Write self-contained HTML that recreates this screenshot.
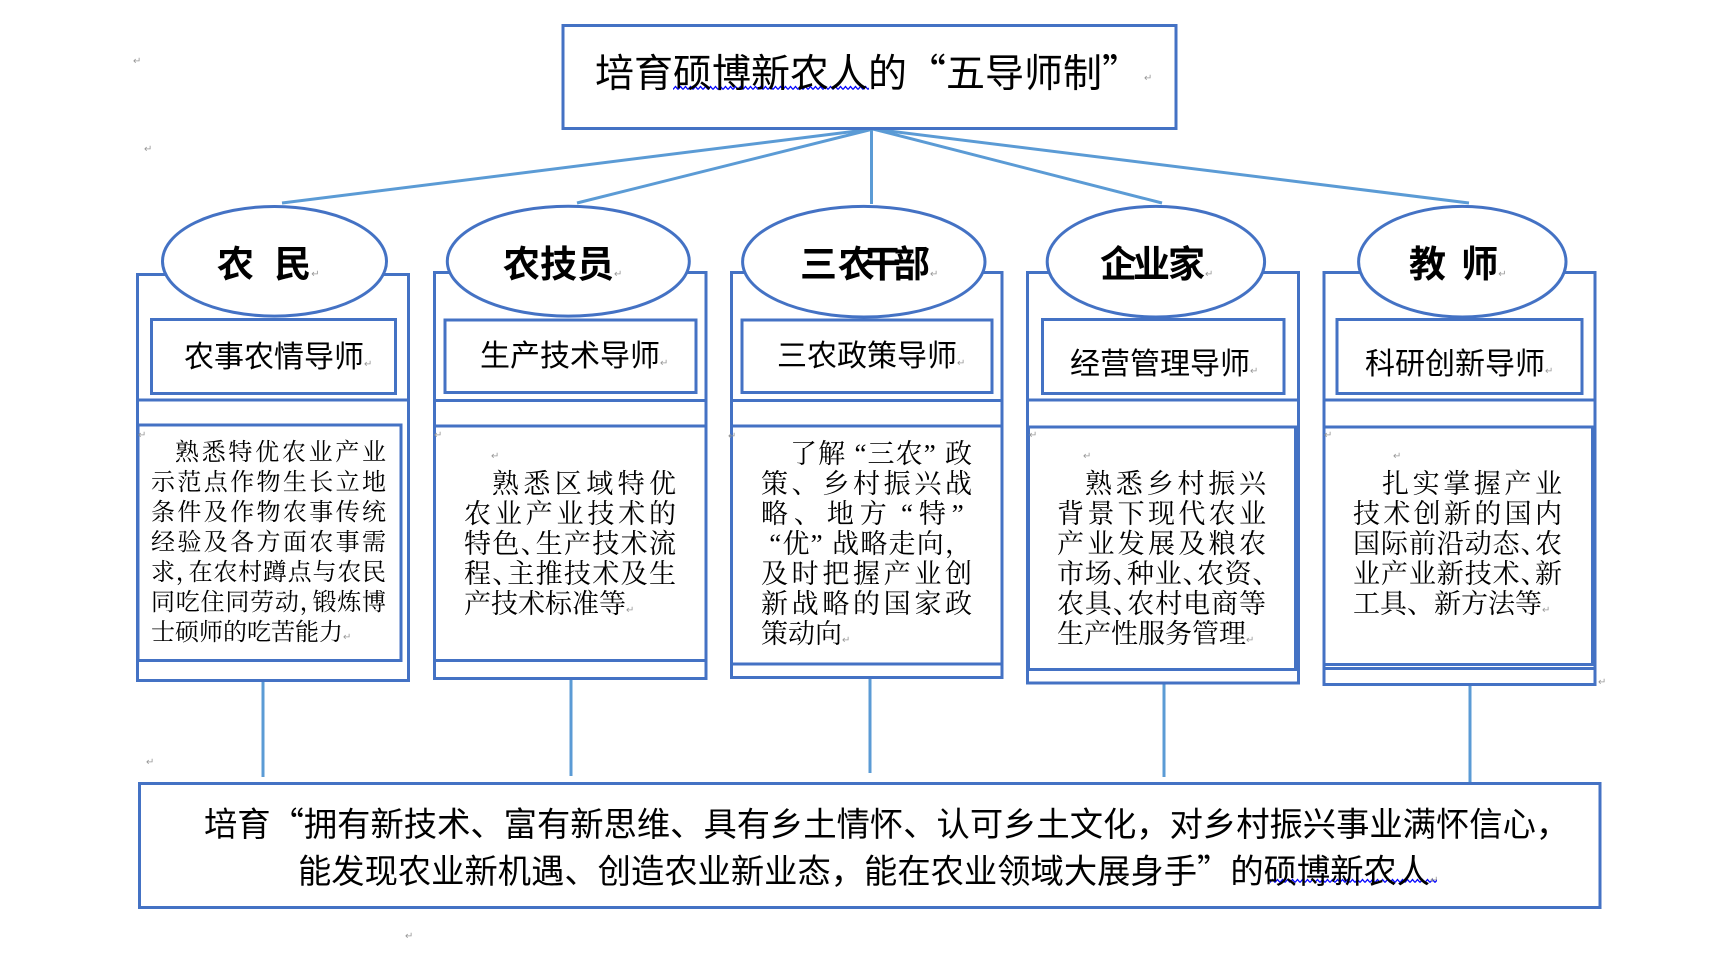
<!DOCTYPE html>
<html><head><meta charset="utf-8">
<style>
html,body{margin:0;padding:0;background:#fff;}
body{width:1714px;height:973px;position:relative;overflow:hidden;}
svg{position:absolute;left:0;top:0;}
.t{position:absolute;white-space:nowrap;line-height:1;color:#000;font-family:"Liberation Sans","Noto Sans CJK SC",sans-serif;}
.b{font-weight:bold;}
.d{position:absolute;font-family:"Liberation Serif","Noto Serif CJK SC",serif;color:#000;}
.d div{height:30px;line-height:30px;text-align:justify;text-align-last:justify;}
.d div.l{text-align:left;text-align-last:left;white-space:nowrap;}
.ql,.qr{display:inline-block;width:1em;font-family:"Noto Sans CJK SC",sans-serif;}
.ql{text-align:right;}
.qr{text-align:left;}
.sl{margin-left:0.306em;}
.sr{margin-right:0.306em;}
.h{letter-spacing:-0.5em;}
.mk{font-family:"DejaVu Sans",sans-serif;font-size:10px;color:#999;font-weight:normal;letter-spacing:0;}
.m{position:absolute;font-family:"DejaVu Sans",sans-serif;font-size:10px;color:#999;line-height:1;}
</style></head><body>
<svg width="1714" height="973" viewBox="0 0 1714 973" xmlns="http://www.w3.org/2000/svg">
<defs>
<pattern id="wv" x="0" y="0" width="5" height="6" patternUnits="userSpaceOnUse"><path d="M0 4.5 L2.5 1.5 L5 4.5" fill="none" stroke="#0000ff" stroke-width="1.3"/></pattern>
</defs>
<g stroke="#5B9BD5" stroke-width="3" fill="none">
<line x1="873" y1="129" x2="282" y2="203"/>
<line x1="873" y1="129" x2="577" y2="203"/>
<line x1="871.5" y1="129" x2="871.5" y2="204"/>
<line x1="873" y1="129" x2="1162" y2="203"/>
<line x1="873" y1="129" x2="1469" y2="203"/>
<line x1="263" y1="682" x2="263" y2="777"/>
<line x1="571" y1="680" x2="571" y2="776"/>
<line x1="870" y1="679" x2="870" y2="773"/>
<line x1="1164" y1="684" x2="1164" y2="777"/>
<line x1="1470" y1="686" x2="1470" y2="783"/>
</g>
<g stroke="#4472C4" stroke-width="3" fill="none">
<rect x="563" y="25.5" width="613" height="103" fill="#fff"/>
<rect x="137.5" y="274.5" width="271" height="406"/>
<rect x="434.5" y="272.5" width="271.5" height="406"/>
<rect x="731.5" y="272.5" width="270.5" height="405"/>
<rect x="1027.5" y="272.5" width="271" height="410.5"/>
<rect x="1324" y="272.5" width="271" height="412"/>
<ellipse cx="274.5" cy="261.3" rx="112" ry="54.8" fill="#fff"/>
<ellipse cx="568.3" cy="261.2" rx="121" ry="54.9" fill="#fff"/>
<ellipse cx="863.8" cy="261.7" rx="121.2" ry="55.3" fill="#fff"/>
<ellipse cx="1155.9" cy="261.7" rx="108.7" ry="55.3" fill="#fff"/>
<ellipse cx="1462.3" cy="261.7" rx="103.7" ry="55.3" fill="#fff"/>
<rect x="151.5" y="319.5" width="244" height="74"/>
<rect x="445" y="320" width="251" height="72.5"/>
<rect x="742" y="320" width="250" height="72.5"/>
<rect x="1042.5" y="319.5" width="241.5" height="74"/>
<rect x="1337" y="319.5" width="245" height="74"/>
<line x1="137.5" y1="400" x2="408.5" y2="400"/>
<line x1="434.5" y1="400.5" x2="706" y2="400.5"/>
<line x1="731.5" y1="400.5" x2="1002" y2="400.5"/>
<line x1="1027.5" y1="400" x2="1298.5" y2="400"/>
<line x1="1324" y1="400" x2="1595" y2="400"/>
<rect x="138" y="425" width="263" height="235.5"/>
<rect x="434.5" y="426" width="271.5" height="234.5"/>
<rect x="731.5" y="426" width="270.5" height="238"/>
<rect x="1028.5" y="427" width="267" height="242.5"/>
<rect x="1324" y="427" width="268.5" height="237.5"/>
<line x1="1324" y1="668.5" x2="1595" y2="668.5"/>
<rect x="139.5" y="783.5" width="1460.5" height="124"/>
</g>
<rect x="0" y="0" width="196" height="6" fill="url(#wv)" transform="translate(673,85)"/>
<rect x="0" y="0" width="167" height="6" fill="url(#wv)" transform="translate(1270,878)"/>
</svg>

<!-- title -->
<div class="t" style="left:595px;top:52.3px;font-size:39px">培育硕博新农人的<span class="ql">“</span>五导师制<span class="qr">”</span></div>

<!-- ellipse labels -->
<div class="t b" style="left:217px;top:245.7px;font-size:37px;word-spacing:10px">农 民<span class="mk">↵</span></div>
<div class="t b" style="left:503px;top:245.7px;font-size:37px">农技员<span class="mk">↵</span></div>
<div class="t b" style="left:800px;top:245.7px;font-size:37px">三<span style="margin-left:1px">农</span><span style="margin-left:-11px">干</span><span style="margin-left:-8px">部</span><span class="mk">↵</span></div>
<div class="t b" style="left:1100px;top:245.7px;font-size:37px">企<span style="margin-left:-4px">业</span><span style="margin-left:-2px">家</span><span class="mk">↵</span></div>
<div class="t b" style="left:1409px;top:245.7px;font-size:37px;word-spacing:5px">教 师<span class="mk">↵</span></div>

<!-- mentor titles -->
<div class="t" style="left:184px;top:343px;font-size:30px">农事农情导师<span class="mk">↵</span></div>
<div class="t" style="left:480px;top:342px;font-size:30px">生产技术导师<span class="mk">↵</span></div>
<div class="t" style="left:777px;top:342px;font-size:30px">三农政策导师<span class="mk">↵</span></div>
<div class="t" style="left:1070px;top:350px;font-size:30px">经营管理导师<span class="mk">↵</span></div>
<div class="t" style="left:1365px;top:350px;font-size:30px">科研创新导师<span class="mk">↵</span></div>

<!-- descriptions -->
<div class="d" style="left:151px;top:438px;width:235px;font-size:24px">
<div style="padding-left:24px">熟悉特优农业产业</div>
<div>示范点作物生长立地</div>
<div>条件及作物农事传统</div>
<div>经验及各方面农事需</div>
<div>求<span class="h">，</span>在农村蹲点与农民</div>
<div>同吃住同劳动<span class="h">，</span>锻炼博</div>
<div class="l">士硕师的吃苦能力<span class="mk">↵</span></div>
</div>

<div class="d" style="left:464px;top:469px;width:212px;font-size:27px">
<div style="padding-left:28px">熟悉区域特优</div>
<div>农业产业技术的</div>
<div>特色<span class="h">、</span>生产技术流</div>
<div>程<span class="h">、</span>主推技术及生</div>
<div class="l">产技术标准等<span class="mk">↵</span></div>
</div>

<div class="d" style="left:761px;top:438.6px;width:211px;font-size:27px">
<div style="padding-left:29px">了解<span class="sl">“</span>三农<span class="sr">”</span>政</div>
<div>策、乡村振兴战</div>
<div>略、地方<span class="sl">“</span>特<span class="sr">”</span></div>
<div><span class="sl">“</span>优<span class="sr">”</span>战略走向，</div>
<div>及时把握产业创</div>
<div>新战略的国家政</div>
<div class="l">策动向<span class="mk">↵</span></div>
</div>

<div class="d" style="left:1057px;top:469px;width:209px;font-size:27px">
<div style="padding-left:28px">熟悉乡村振兴</div>
<div>背景下现代农业</div>
<div>产业发展及粮农</div>
<div>市场<span class="h">、</span>种业<span class="h">、</span>农资<span class="h">、</span></div>
<div>农具<span class="h">、</span>农村电商等</div>
<div class="l">生产性服务管理<span class="mk">↵</span></div>
</div>

<div class="d" style="left:1353px;top:469px;width:209px;font-size:27px">
<div style="padding-left:29px">扎实掌握产业</div>
<div>技术创新的国内</div>
<div>国际前沿动态<span class="h">、</span>农</div>
<div>业产业新技术<span class="h">、</span>新</div>
<div class="l">工具、新方法等<span class="mk">↵</span></div>
</div>

<!-- bottom text -->
<div class="t" style="left:204px;top:804.5px;font-size:33.3px">培育<span class="ql">“</span>拥有新技术、富有新思维、具有乡土情怀、认可乡土文化，对乡村振兴事业满怀信心，</div>
<div class="t" style="left:298px;top:851.5px;font-size:33.3px">能发现农业新机遇、创造农业新业态，能在农业领域大展身手<span class="qr">”</span>的硕博新农人<span class="mk">↵</span></div>

<!-- paragraph marks -->
<div class="m" style="left:133px;top:57px">↵</div>
<div class="m" style="left:144px;top:145px">↵</div>
<div class="m" style="left:1144px;top:74px">↵</div>
<div class="m" style="left:138px;top:431px">↵</div>
<div class="m" style="left:434px;top:431px">↵</div>
<div class="m" style="left:491px;top:452px">↵</div>
<div class="m" style="left:728px;top:432px">↵</div>
<div class="m" style="left:1029px;top:431px">↵</div>
<div class="m" style="left:1083px;top:452px">↵</div>
<div class="m" style="left:1324px;top:431px">↵</div>
<div class="m" style="left:1393px;top:452px">↵</div>
<div class="m" style="left:146px;top:758px">↵</div>
<div class="m" style="left:405px;top:932px">↵</div>
<div class="m" style="left:1598px;top:678px">↵</div>
</body></html>
